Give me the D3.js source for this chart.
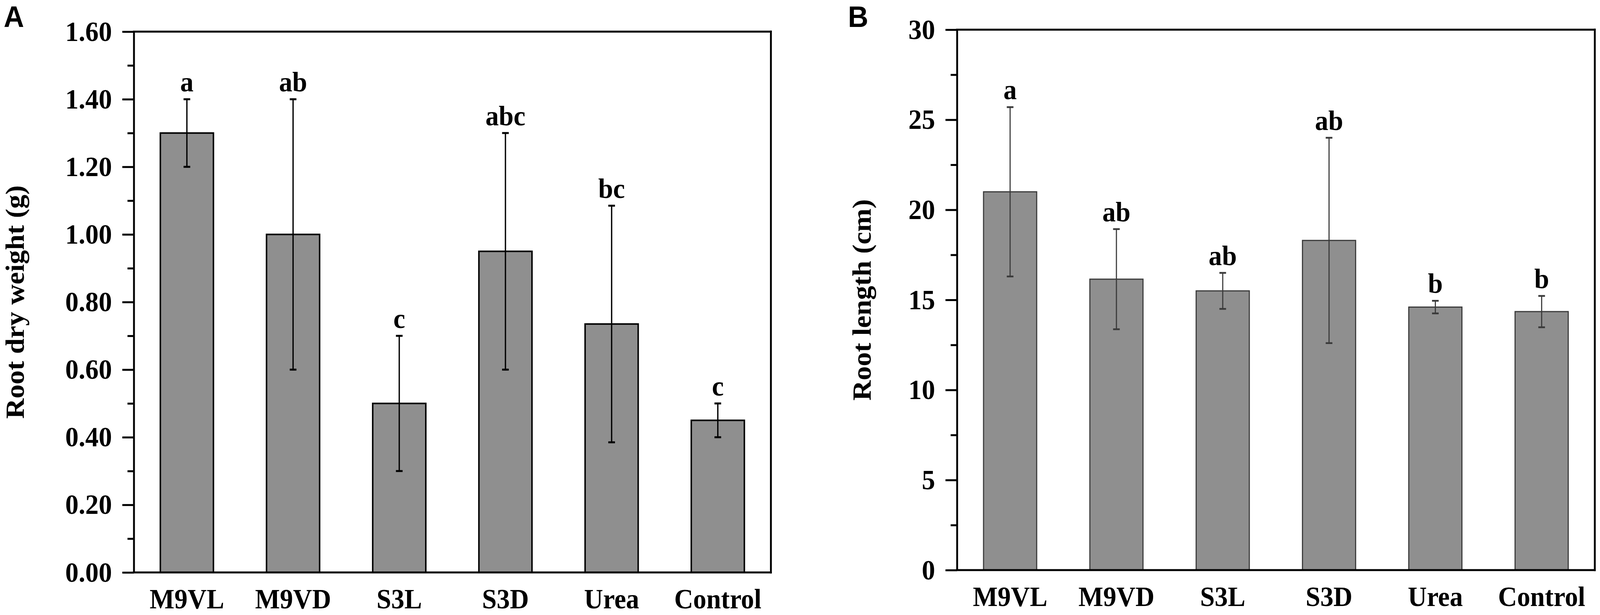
<!DOCTYPE html>
<html>
<head>
<meta charset="utf-8">
<script src="https://cdn.jsdelivr.net/npm/d3@7"></script>
<style>
  html, body { margin: 0; padding: 0; overflow: hidden; background: #fff; }
  #chart { width: 100vw; height: 100vh; }
  svg { display: block; width: 100%; height: 100%; }
  text { font-family: "Times New Roman", "Liberation Serif", serif; font-weight: bold; fill: #000; }
  .panel-label { font-family: Arial, "Liberation Sans", sans-serif; }
</style>
</head>
<body>
<div id="chart"></div>
<script>
// groups on the x axis (same for both panels)
const groups = ["M9VL", "M9VD", "S3L", "S3D", "Urea", "Control"];

// panel A: root dry weight (g)
const dryWeight = [1.30, 1.00, 0.50, 0.95, 0.735, 0.45];
const dryWeightErr = [0.10, 0.40, 0.20, 0.35, 0.35, 0.05];
const dryWeightLetters = ["a", "ab", "c", "abc", "bc", "c"];
const dryWeightTicks = [0, 0.2, 0.4, 0.6, 0.8, 1.0, 1.2, 1.4, 1.6];
const dryWeightMinor = [0.1, 0.3, 0.5, 0.7, 0.9, 1.1, 1.3, 1.5];

// panel B: root length (cm)
const rootLength = [21.0, 16.15, 15.5, 18.3, 14.6, 14.35];
const rootLengthErr = [4.7, 2.78, 1.0, 5.7, 0.35, 0.87];
const rootLengthLetters = ["a", "ab", "ab", "ab", "b", "b"];
const rootLengthTicks = [0, 5, 10, 15, 20, 25, 30];
const rootLengthMinor = [2.5, 7.5, 12.5, 17.5, 22.5, 27.5];

// whole figure is laid out in a 4317 x 1575 box and stretched to the window
const svg = d3.select("#chart")
    .append("svg")
    .attr("viewBox", "0 0 4317 1575")
    .attr("preserveAspectRatio", "none");

function drawPanel(opts) {
    var width = opts.width,
        height = opts.height;

    var g = svg.append("g")
        .attr("transform", `translate(${opts.left}, ${opts.top})`);

    var x = d3.scaleBand()
        .domain(groups)
        .range([0, width])
        .paddingInner(0.5)
        .paddingOuter(0.25);

    var y = d3.scaleLinear()
        .domain([0, opts.max])
        .range([height, 0]);

    var data = groups.map((name, i) => ({
        name: name,
        value: opts.values[i],
        err: opts.errors[i],
        letter: opts.letters[i]
    }));

    // Bars
    g.append("g")
        .selectAll("rect")
        .data(data)
        .enter().append("rect")
        .attr("x", d => x(d.name))
        .attr("y", d => y(d.value))
        .attr("width", x.bandwidth())
        .attr("height", d => height - y(d.value))
        .attr("fill", "#8f8f8f")
        .attr("stroke", opts.barStroke)
        .attr("stroke-width", opts.barStrokeWidth);

    // Error bars
    var errs = g.append("g")
        .attr("stroke", opts.errStroke)
        .attr("stroke-width", opts.errWidth);

    errs.selectAll(".stem")
        .data(data)
        .enter().append("line")
        .attr("x1", d => x(d.name) + x.bandwidth() / 2)
        .attr("x2", d => x(d.name) + x.bandwidth() / 2)
        .attr("y1", d => y(d.value + d.err))
        .attr("y2", d => y(d.value - d.err));

    errs.selectAll(".capTop")
        .data(data)
        .enter().append("line")
        .attr("x1", d => x(d.name) + x.bandwidth() / 2 - 9)
        .attr("x2", d => x(d.name) + x.bandwidth() / 2 + 9)
        .attr("y1", d => y(d.value + d.err))
        .attr("y2", d => y(d.value + d.err))
        .attr("stroke-width", opts.errWidth + 1.5);

    errs.selectAll(".capBottom")
        .data(data)
        .enter().append("line")
        .attr("x1", d => x(d.name) + x.bandwidth() / 2 - 9)
        .attr("x2", d => x(d.name) + x.bandwidth() / 2 + 9)
        .attr("y1", d => y(d.value - d.err))
        .attr("y2", d => y(d.value - d.err))
        .attr("stroke-width", opts.errWidth + 1.5);

    // Significance letters
    g.append("g")
        .selectAll("text")
        .data(data)
        .enter().append("text")
        .attr("x", d => x(d.name) + x.bandwidth() / 2)
        .attr("y", d => y(d.value + d.err) - 20)
        .attr("text-anchor", "middle")
        .style("font-size", "72px")
        .text(d => d.letter);

    // Minor ticks on Y
    var minor = g.append("g")
        .call(d3.axisLeft(y).tickValues(opts.minorTicks).tickSize(17).tickFormat(""));
    minor.select(".domain").remove();
    minor.selectAll("line").attr("stroke", "#000").attr("stroke-width", 5);

    // Add Y axis
    var yAxis = g.append("g")
        .call(d3.axisLeft(y)
            .tickValues(opts.ticks)
            .tickSize(31)
            .tickSizeOuter(0)
            .tickPadding(28)
            .tickFormat(opts.format));
    yAxis.select(".domain").attr("stroke", "#000").attr("stroke-width", 5);
    yAxis.selectAll("line").attr("stroke", "#000").attr("stroke-width", 5);
    yAxis.selectAll("text")
        .style("font-size", "72px")
        .style("font-family", "\"Times New Roman\", \"Liberation Serif\", serif")
        .style("font-weight", "bold")
        .attr("fill", "#000");

    // Add X axis (labels only)
    var xAxis = g.append("g")
        .attr("transform", `translate(0, ${height})`)
        .call(d3.axisBottom(x).tickSize(0).tickPadding(42));
    xAxis.select(".domain").remove();
    xAxis.selectAll("text")
        .style("font-size", "71px")
        .style("font-family", "\"Times New Roman\", \"Liberation Serif\", serif")
        .style("font-weight", "bold")
        .attr("fill", "#000");

    // Frame: bottom, top and right
    var frame = g.append("g")
        .attr("stroke", "#000")
        .attr("stroke-width", 5)
        .attr("stroke-linecap", "square");
    frame.append("line").attr("x1", 0).attr("x2", width).attr("y1", height).attr("y2", height);
    frame.append("line").attr("x1", 0).attr("x2", width).attr("y1", 0).attr("y2", 0);
    frame.append("line").attr("x1", width).attr("x2", width).attr("y1", 0).attr("y2", height);

    // Y axis title
    g.append("text")
        .attr("transform", `translate(${opts.titleX}, ${height / 2}) rotate(-90)`)
        .attr("text-anchor", "middle")
        .style("font-size", "72px")
        .text(opts.title);

    // Panel letter
    svg.append("text")
        .attr("class", "panel-label")
        .attr("x", opts.labelX)
        .attr("y", 69)
        .style("font-size", "76px")
        .text(opts.label);
}

drawPanel({
    left: 361, top: 81, width: 1719, height: 1385,
    max: 1.6,
    values: dryWeight, errors: dryWeightErr, letters: dryWeightLetters,
    ticks: dryWeightTicks, minorTicks: dryWeightMinor,
    format: d3.format(".2f"),
    barStroke: "#000", barStrokeWidth: 4,
    errStroke: "#000", errWidth: 3.5,
    title: "Root dry weight (g)", titleX: -297,
    label: "A", labelX: 10
});

drawPanel({
    left: 2582, top: 76, width: 1721, height: 1384,
    max: 30,
    values: rootLength, errors: rootLengthErr, letters: rootLengthLetters,
    ticks: rootLengthTicks, minorTicks: rootLengthMinor,
    format: d3.format("d"),
    barStroke: "#3a3a3a", barStrokeWidth: 3,
    errStroke: "#3a3a3a", errWidth: 3,
    title: "Root length (cm)", titleX: -233,
    label: "B", labelX: 2288
});
</script>
</body>
</html>
